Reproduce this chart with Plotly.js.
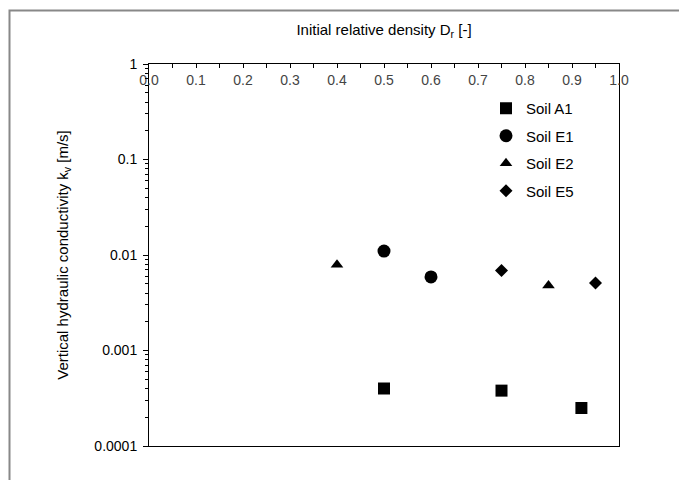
<!DOCTYPE html>
<html>
<head>
<meta charset="utf-8">
<script src="https://cdn.plot.ly/plotly-3.0.1.min.js"></script>
<style>
html,body{margin:0;padding:0;background:#fff;}
#chart{width:679px;height:480px;}
</style>
</head>
<body>
<div id="chart"></div>
<script>
// Data
const seriesNames = ["Soil A1", "Soil E1", "Soil E2", "Soil E5"];
const soilA1_x = [0.5, 0.75, 0.92];
const soilA1_y = [0.00040, 0.00038, 0.00025];
const soilE1_x = [0.5, 0.6];
const soilE1_y = [0.0110, 0.0059];
const soilE2_x = [0.4, 0.85];
const soilE2_y = [0.0079, 0.0048];
const soilE5_x = [0.75, 0.95];
const soilE5_y = [0.0069, 0.0051];
const yTickVals = [1, 0.1, 0.01, 0.001, 0.0001];
const yTickText = ["1", "0.1", "0.01", "0.001", "0.0001"];

const symbols = ["square", "circle", "triangle-up", "diamond"];
const sizes = [12, 13, 11, 10];
const xs = [soilA1_x, soilE1_x, soilE2_x, soilE5_x];
const ys = [soilA1_y, soilE1_y, soilE2_y, soilE5_y];

const traces = seriesNames.map((n, i) => ({
  type: "scatter", mode: "markers", name: n,
  x: xs[i], y: ys[i], legendgroup: "g" + i,
  marker: {symbol: symbols[i], size: sizes[i], color: "#000"}
}));

// minor log ticks 2..9 per decade
const minorVals = [];
for (let e = -4; e < 0; e++) {
  for (let m = 2; m <= 9; m++) minorVals.push(m * Math.pow(10, e));
}

const L = 149, R = 619, T = 64, B = 446;
const pw = R - L, ph = B - T;
const px = v => (v - L) / pw;
const py = v => 1 - (v - T) / ph;

const layout = {
  width: 679, height: 480,
  margin: {l: L, r: 679 - R, t: T, b: 480 - B},
  paper_bgcolor: "#fff", plot_bgcolor: "#fff",
  font: {family: "Liberation Sans, Arial, sans-serif", size: 13, color: "#000"},
  showlegend: true,
  legend: {x: px(486), y: py(92), xanchor: "left", yanchor: "top",
           tracegroupgap: 5, traceorder: "grouped", bgcolor: "rgba(0,0,0,0)",
           font: {size: 15}},
  xaxis: {
    side: "top", range: [0, 1], dtick: 0.1, tick0: 0, tickformat: ".1f",
    ticks: "inside", ticklen: 4, tickcolor: "#000",
    ticklabelposition: "inside", ticklabeloverflow: "allow", ticklabelstandoff: 7,
    tickfont: {size: 14},
    minor: {dtick: 0.05, ticks: "inside", ticklen: 4, tickcolor: "#000"},
    showline: true, linecolor: "#000", linewidth: 1, mirror: true,
    showgrid: false, zeroline: false,
    title: {text: "Initial relative density D<sub>r</sub> [-]", standoff: 32, font: {size: 15}}
  },
  yaxis: {
    type: "log", range: [-4, 0],
    tickmode: "array", tickvals: yTickVals, ticktext: yTickText,
    ticks: "outside", ticklen: 5, tickcolor: "#000",
    tickfont: {size: 14}, ticklabelstandoff: 3,
    minor: {tickmode: "array", tickvals: minorVals, ticks: "outside", ticklen: 3, tickcolor: "#000"},
    showline: true, linecolor: "#000", linewidth: 1, mirror: true,
    showgrid: false, zeroline: false,
    title: {text: "Vertical hydraulic conductivity k<sub>v</sub> [m/s]", standoff: 22, font: {size: 15}}
  },
  shapes: [{
    type: "rect", xref: "paper", yref: "paper",
    x0: px(9.5), x1: px(700), y0: py(500), y1: py(10.5),
    line: {color: "#888", width: 2}, layer: "below"
  }]
};

Plotly.newPlot("chart", traces, layout, {displayModeBar: false, staticPlot: true});
</script>
</body>
</html>
